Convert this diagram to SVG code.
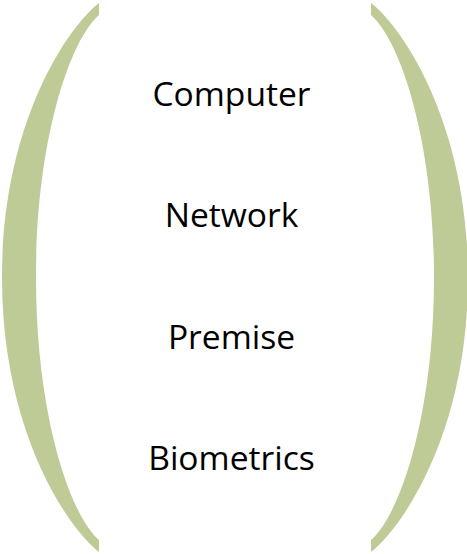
<svg xmlns="http://www.w3.org/2000/svg" xmlns:xlink="http://www.w3.org/1999/xlink" width="467" height="554" viewBox="0 0 467 554">
<style>
.br{fill:#BECB97;stroke:none}
.lbl{font-family:"Open Sans","Noto Sans","Liberation Sans",sans-serif;font-size:33.6px;fill:#000;text-anchor:middle}
</style>
<defs>
<path id="bracket" d="M99,3 C70,25 2,120 2,277.5 C2,435 70,530 99,552 L99,540 C70,515 36,415 36,277.5 C36,140 70,40 99,15 Z"/>
</defs>
<rect width="467" height="554" fill="#fff"/>
<g id="left-bracket"><use xlink:href="#bracket" href="#bracket" class="br"/></g>
<g id="right-bracket"><use xlink:href="#bracket" href="#bracket" class="br" transform="translate(470,0) scale(-1,1)"/></g>
<g id="node-computer"><text class="lbl" x="231.5" y="106">Computer</text></g>
<g id="node-network"><text class="lbl" x="231.5" y="227">Network</text></g>
<g id="node-premise"><text class="lbl" x="231.5" y="349">Premise</text></g>
<g id="node-biometrics"><text class="lbl" x="231.5" y="470">Biometrics</text></g>
<g id="connectors"></g>
</svg>
